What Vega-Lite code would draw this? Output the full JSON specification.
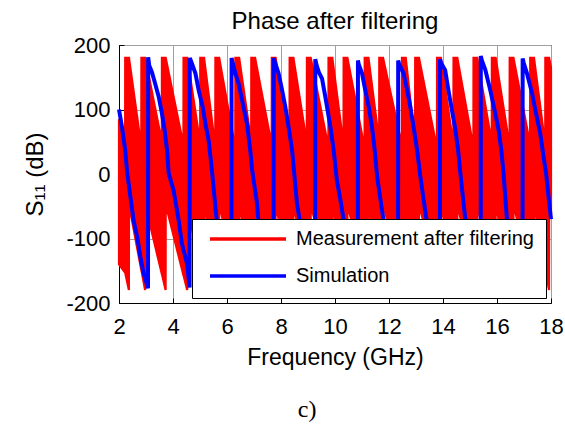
{
  "$schema": "https://vega.github.io/schema/vega-lite/v6.json",
  "width": 432,
  "height": 258,
  "autosize": {"type": "none"},
  "padding": {"left": 119, "top": 45, "right": 14, "bottom": 122},
  "background": "white",
  "title": {"text": "Phase after filtering", "fontSize": 24, "font": "Liberation Sans", "fontWeight": "normal", "color": "black", "anchor": "middle", "frame": "group", "offset": 14, "dy": 14},
  "config": {"view": {"stroke": "black", "strokeWidth": 1}},
  "datasets": {
    "red": [
      {"f":2.0,"lo":-140,"hi":85},
      {"f":2.226,"lo":-153,"hi":45},{"f":2.23,"lo":-153,"hi":180},{"f":2.366,"lo":-180,"hi":180},{"f":2.37,"lo":-47,"hi":180},
      {"f":2.826,"lo":-149,"hi":42},{"f":2.83,"lo":-149,"hi":180},{"f":2.966,"lo":-180,"hi":180},{"f":2.97,"lo":-47,"hi":180},
      {"f":3.586,"lo":-155,"hi":50},{"f":3.59,"lo":-155,"hi":180},{"f":3.726,"lo":-180,"hi":180},{"f":3.73,"lo":-47,"hi":180},
      {"f":4.386,"lo":-157,"hi":45},{"f":4.39,"lo":-157,"hi":180},{"f":4.526,"lo":-180,"hi":180},{"f":4.53,"lo":-47,"hi":180},
      {"f":5.006,"lo":-150,"hi":48},{"f":5.01,"lo":-150,"hi":180},{"f":5.146,"lo":-180,"hi":180},{"f":5.15,"lo":-47,"hi":180},
      {"f":5.566,"lo":-147,"hi":42},{"f":5.57,"lo":-147,"hi":180},{"f":5.706,"lo":-180,"hi":180},{"f":5.71,"lo":-47,"hi":180},
      {"f":6.306,"lo":-155,"hi":40},{"f":6.31,"lo":-155,"hi":180},{"f":6.446,"lo":-180,"hi":180},{"f":6.45,"lo":-47,"hi":180},
      {"f":6.896,"lo":-148,"hi":50},{"f":6.9,"lo":-148,"hi":180},{"f":7.036,"lo":-180,"hi":180},{"f":7.04,"lo":-47,"hi":180},
      {"f":7.656,"lo":-155,"hi":45},{"f":7.66,"lo":-155,"hi":180},{"f":7.796,"lo":-180,"hi":180},{"f":7.8,"lo":-47,"hi":180},
      {"f":8.316,"lo":-152,"hi":40},{"f":8.32,"lo":-152,"hi":180},{"f":8.456,"lo":-180,"hi":180},{"f":8.46,"lo":-47,"hi":180},
      {"f":8.956,"lo":-151,"hi":48},{"f":8.96,"lo":-151,"hi":180},{"f":9.096,"lo":-180,"hi":180},{"f":9.1,"lo":-47,"hi":180},
      {"f":9.756,"lo":-157,"hi":42},{"f":9.76,"lo":-157,"hi":180},{"f":9.896,"lo":-180,"hi":180},{"f":9.9,"lo":-47,"hi":180},
      {"f":10.316,"lo":-147,"hi":45},{"f":10.32,"lo":-147,"hi":180},{"f":10.456,"lo":-180,"hi":180},{"f":10.46,"lo":-47,"hi":180},
      {"f":11.096,"lo":-156,"hi":40},{"f":11.1,"lo":-156,"hi":180},{"f":11.236,"lo":-180,"hi":180},{"f":11.24,"lo":-47,"hi":180},
      {"f":11.636,"lo":-145,"hi":50},{"f":11.64,"lo":-145,"hi":180},{"f":11.776,"lo":-180,"hi":180},{"f":11.78,"lo":-47,"hi":180},
      {"f":12.476,"lo":-158,"hi":45},{"f":12.48,"lo":-158,"hi":180},{"f":12.616,"lo":-180,"hi":180},{"f":12.62,"lo":-47,"hi":180},
      {"f":12.966,"lo":-142,"hi":48},{"f":12.97,"lo":-142,"hi":180},{"f":13.106,"lo":-180,"hi":180},{"f":13.11,"lo":-47,"hi":180},
      {"f":13.776,"lo":-157,"hi":40},{"f":13.78,"lo":-157,"hi":180},{"f":13.916,"lo":-180,"hi":180},{"f":13.92,"lo":-47,"hi":180},
      {"f":14.386,"lo":-149,"hi":45},{"f":14.39,"lo":-149,"hi":180},{"f":14.526,"lo":-180,"hi":180},{"f":14.53,"lo":-47,"hi":180},
      {"f":15.126,"lo":-155,"hi":42},{"f":15.13,"lo":-155,"hi":180},{"f":15.266,"lo":-180,"hi":180},{"f":15.27,"lo":-47,"hi":180},
      {"f":15.806,"lo":-153,"hi":48},{"f":15.81,"lo":-153,"hi":180},{"f":15.946,"lo":-180,"hi":180},{"f":15.95,"lo":-47,"hi":180},
      {"f":16.466,"lo":-152,"hi":44},{"f":16.47,"lo":-152,"hi":180},{"f":16.606,"lo":-180,"hi":180},{"f":16.61,"lo":-47,"hi":180},
      {"f":17.226,"lo":-155,"hi":46},{"f":17.23,"lo":-155,"hi":180},{"f":17.366,"lo":-180,"hi":180},{"f":17.37,"lo":-47,"hi":180},
      {"f":17.786,"lo":-147,"hi":45},{"f":17.79,"lo":-147,"hi":180},{"f":17.926,"lo":-180,"hi":180},{"f":17.93,"lo":-47,"hi":180},
      {"f":18.0,"lo":-62,"hi":165}
    ],
    "blue": [
      {"f":2.0,"p":100},{"f":2.11,"p":73},{"f":2.23,"p":37},{"f":2.3,"p":3},{"f":2.42,"p":-35},{"f":2.54,"p":-72},{"f":2.67,"p":-97},{"f":2.79,"p":-128},{"f":2.91,"p":-154},{"f":3.04,"p":-172},{"f":3.075,"p":-177},
      {"f":3.08,"p":181},{"f":3.12,"p":168},{"f":3.22,"p":158},{"f":3.34,"p":140},{"f":3.47,"p":120},{"f":3.59,"p":94},{"f":3.69,"p":68},{"f":3.78,"p":37},{"f":3.84,"p":1},{"f":4.02,"p":-25},{"f":4.21,"p":-72},{"f":4.33,"p":-108},{"f":4.52,"p":-139},{"f":4.615,"p":-176},
      {"f":4.62,"p":180},{"f":4.66,"p":176},{"f":4.83,"p":156},{"f":4.95,"p":130},{"f":5.1,"p":104},{"f":5.2,"p":78},{"f":5.32,"p":52},{"f":5.44,"p":6},{"f":5.63,"p":-77},{"f":5.8,"p":-115},{"f":6.0,"p":-150},{"f":6.165,"p":-176},
      {"f":6.17,"p":180},{"f":6.2,"p":174},{"f":6.31,"p":156},{"f":6.43,"p":140},{"f":6.61,"p":104},{"f":6.74,"p":78},{"f":6.86,"p":37},{"f":6.93,"p":6},{"f":7.11,"p":-45},{"f":7.17,"p":-77},{"f":7.4,"p":-120},{"f":7.6,"p":-155},{"f":7.725,"p":-176},
      {"f":7.73,"p":180},{"f":7.76,"p":175},{"f":7.91,"p":156},{"f":8.04,"p":130},{"f":8.16,"p":104},{"f":8.28,"p":73},{"f":8.41,"p":37},{"f":8.5,"p":-4},{"f":8.59,"p":-45},{"f":8.71,"p":-77},{"f":8.95,"p":-120},{"f":9.15,"p":-155},{"f":9.265,"p":-176},
      {"f":9.27,"p":178},{"f":9.31,"p":170},{"f":9.4,"p":158},{"f":9.52,"p":148},{"f":9.64,"p":120},{"f":9.83,"p":73},{"f":9.95,"p":37},{"f":10.07,"p":-10},{"f":10.22,"p":-45},{"f":10.35,"p":-80},{"f":10.55,"p":-120},{"f":10.72,"p":-155},{"f":10.845,"p":-176},
      {"f":10.85,"p":176},{"f":10.88,"p":170},{"f":11.0,"p":156},{"f":11.12,"p":130},{"f":11.25,"p":104},{"f":11.37,"p":73},{"f":11.47,"p":37},{"f":11.56,"p":-4},{"f":11.7,"p":-45},{"f":11.83,"p":-80},{"f":12.0,"p":-120},{"f":12.2,"p":-155},{"f":12.335,"p":-176},
      {"f":12.34,"p":176},{"f":12.38,"p":170},{"f":12.54,"p":156},{"f":12.67,"p":130},{"f":12.79,"p":104},{"f":12.91,"p":73},{"f":13.04,"p":37},{"f":13.16,"p":-4},{"f":13.3,"p":-45},{"f":13.42,"p":-80},{"f":13.6,"p":-120},{"f":13.78,"p":-155},{"f":13.885,"p":-176},
      {"f":13.89,"p":178},{"f":13.93,"p":172},{"f":14.08,"p":161},{"f":14.2,"p":130},{"f":14.33,"p":99},{"f":14.46,"p":68},{"f":14.56,"p":37},{"f":14.64,"p":2},{"f":14.83,"p":-72},{"f":15.0,"p":-110},{"f":15.2,"p":-145},{"f":15.395,"p":-176},
      {"f":15.4,"p":183},{"f":15.44,"p":176},{"f":15.57,"p":161},{"f":15.75,"p":130},{"f":15.91,"p":99},{"f":16.06,"p":68},{"f":16.16,"p":37},{"f":16.24,"p":2},{"f":16.37,"p":-72},{"f":16.55,"p":-110},{"f":16.75,"p":-145},{"f":16.945,"p":-176},
      {"f":16.95,"p":179},{"f":16.99,"p":172},{"f":17.11,"p":156},{"f":17.3,"p":125},{"f":17.42,"p":99},{"f":17.6,"p":63},{"f":17.73,"p":25},{"f":17.82,"p":0},{"f":17.92,"p":-40},{"f":18.0,"p":-70}
    ]
  },
  "layer": [
    {
      "data": {"name": "red"},
      "mark": {"type": "area", "color": "#ff0000", "stroke": "#ff0000", "strokeWidth": 2.2, "strokeJoin": "miter"},
      "encoding": {
        "x": {"field": "f", "type": "quantitative",
          "scale": {"domain": [2, 18], "nice": false, "zero": false},
          "axis": {"values": [2,4,6,8,10,12,14,16,18], "labelExpr": "datum.value", "title": "Frequency (GHz)", "grid": true, "gridColor": "#a0a0a0", "gridWidth": 1,
            "tickSize": -5, "tickColor": "black", "labelPadding": 18, "labelFontSize": 22, "labelFont": "Liberation Sans", "labelColor": "black",
            "labelFlush": false, "labelOverlap": false, "titleFontSize": 23, "titleFont": "Liberation Sans", "titleFontWeight": "normal", "titleColor": "black",
            "titlePadding": 9, "domainColor": "black"}},
        "y": {"field": "hi", "type": "quantitative",
          "scale": {"domain": [-200, 200], "nice": false, "zero": false},
          "axis": {"values": [-200,-100,0,100,200], "labelExpr": "datum.value", "title": "S₁₁ (dB)", "grid": true, "gridColor": "#a0a0a0", "gridWidth": 1,
            "tickSize": -5, "tickColor": "black", "labelPadding": 14, "labelFontSize": 22, "labelFont": "Liberation Sans", "labelColor": "black",
            "labelFlush": false, "labelOverlap": false, "titleFontSize": 24, "titleFont": "Liberation Sans", "titleFontWeight": "normal", "titleColor": "black",
            "titlePadding": 18, "domainColor": "black"}},
        "y2": {"field": "lo"}
      }
    },
    {
      "data": {"name": "blue"},
      "mark": {"type": "line", "strokeWidth": 4},
      "encoding": {
        "x": {"field": "f", "type": "quantitative"},
        "y": {"field": "p", "type": "quantitative"},
        "color": {"datum": "Simulation", "type": "nominal",
          "scale": {"domain": ["Measurement after filtering", "Simulation"], "range": ["#ff0000", "#0000ff"]},
          "legend": {"title": null, "orient": "bottom-right", "offset": 5, "symbolType": "stroke", "symbolSize": 5776, "symbolStrokeWidth": 3.5,
            "clipHeight": 16, "rowPadding": 17, "padding": 12, "symbolOffset": 4, "labelOffset": 8, "labelFontSize": 20, "labelFont": "Liberation Sans",
            "labelColor": "black", "labelLimit": 400, "fillColor": "white", "strokeColor": "black"}}
      }
    },
    {
      "data": {"values": [{"label": "c)"}]},
      "mark": {"type": "text", "font": "Liberation Serif", "fontSize": 24, "baseline": "middle", "align": "center", "color": "black"},
      "encoding": {
        "text": {"field": "label"},
        "x": {"datum": 8.97},
        "y": {"datum": -366}
      }
    }
  ]
}
